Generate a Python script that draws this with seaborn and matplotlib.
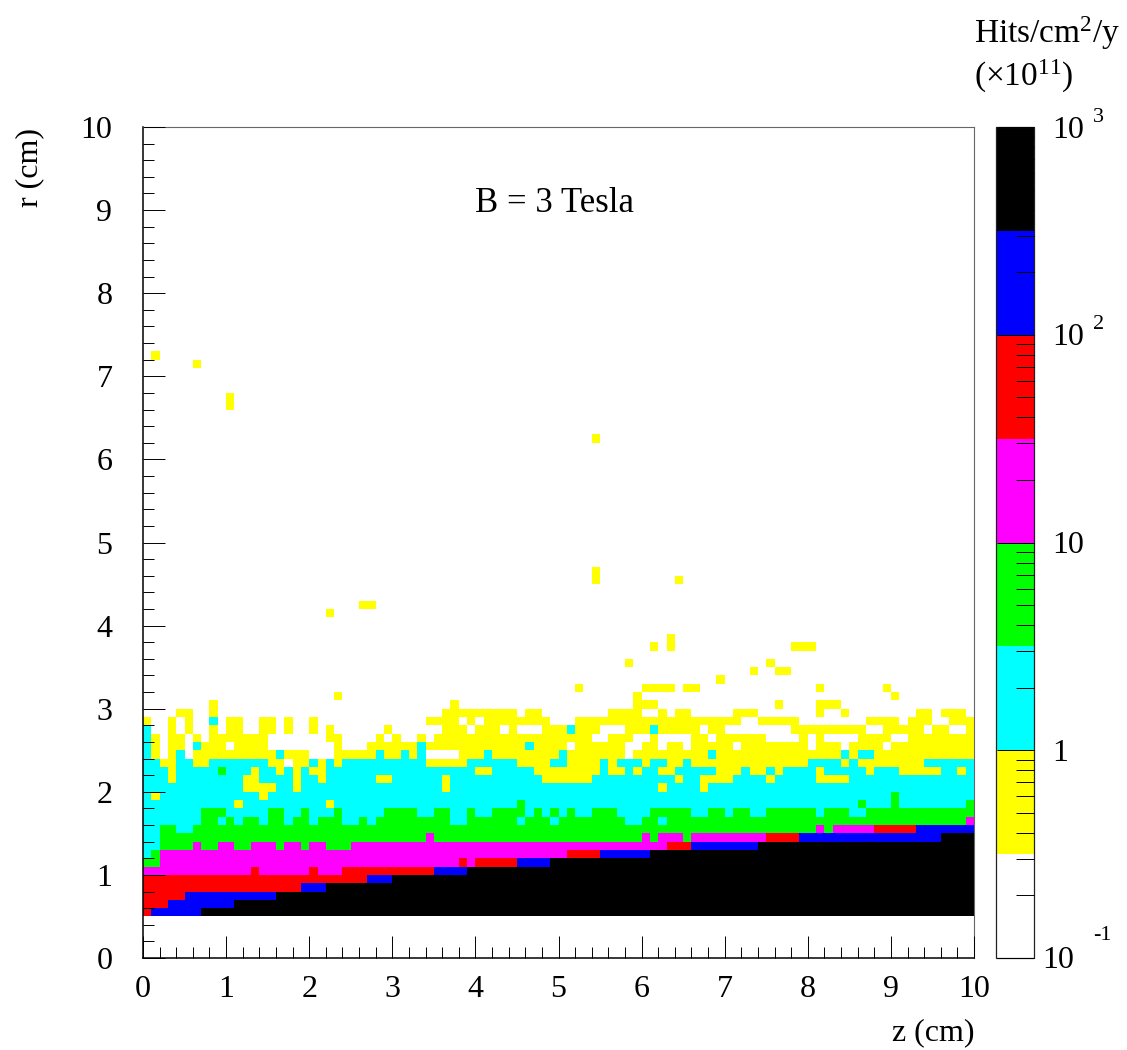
import numpy as np
import matplotlib
matplotlib.use("Agg")
import matplotlib.pyplot as plt
from matplotlib.colors import ListedColormap, LogNorm
from matplotlib.ticker import LogLocator, MultipleLocator, NullFormatter
from matplotlib.transforms import ScaledTranslation
import seaborn as sns

sns.set_style("white", {"axes.axisbelow": False, "text.color": "black",
                        "xtick.color": "black", "ytick.color": "black"})
plt.rcParams["font.family"] = ["Liberation Serif", "DejaVu Serif"]
plt.rcParams["mathtext.fontset"] = "custom"
plt.rcParams["mathtext.rm"] = "Liberation Serif"
plt.rcParams["mathtext.it"] = "Liberation Serif"
plt.rcParams["mathtext.default"] = "rm"

# hit rate per band, white = below 10^-0.5
band_value = {"w": 0.15, "y": 0.56, "c": 1.78, "g": 5.6, "m": 17.8, "r": 56, "b": 178, "k": 562}
band_colors = ["white", "#ffff00", "#00ffff", "#00ff00", "#ff00ff", "#ff0000", "#0000ff", "black"]

# run lengths of each r bin (0.1 cm), z bins left to right, first entry r bin 5
rows_low = [
    "r1 b6 k93",
    "r3 b8 k89",
    "r5 b11 k84",
    "r19 b3 k78",
    "r27 b3 k70",
    "m13 r1 m6 r1 m3 r11 b4 k61",
    "g2 m36 r1 m1 r5 b4 k51",
    "c1 g1 m49 r4 b6 k39",
    "c2 g4 m1 g2 m2 g2 m3 g1 m2 g1 m2 g3 m38 r3 b8 k26",
    "c2 g32 m1 g25 m1 g1 m3 g1 m9 r4 b17 k4",
    "c2 g2 c2 g75 m1 g1 m5 r5 b7",
    "c7 g2 c1 g1 c1 g2 c1 g2 c1 g2 c1 g3 c2 g1 c1 g9 c2 g6 c1 g3 c1 g8 c2 g2 c1 g36 m1",
    "c7 g3 c5 g2 c2 g1 c3 g1 c5 g4 c2 g2 c2 g1 c2 g4 c1 g1 c1 g1 c1 g1 c2 g3 c4 g5 c2 g2 c1 g2 c2 g6 c1 g3 c2 g13",
    "c11 y1 c10 y1 c22 g1 c40 g1 c3 g1 c8 g1",
    "c1 y1 c12 y1 c75 g1 c9",
    "c12 y4 c2 y1 c17 y1 c25 y1 c4 y1 c32",
    "c3 y1 c8 y2 c4 y1 c2 y1 c6 y2 c6 y1 c11 y6 c10 y1 c2 y4 c4 y1 c5 y4 c15",
    "c3 y1 c5 g1 c3 y1 c2 y1 c1 y1 c1 y2 c18 y2 c5 y8 c1 y2 c1 y1 c2 y2 c5 y3 c1 y2 c1 y1 c4 y1 c5 y1 c3 y5 c2 y1 c1",
    "c2 y2 c2 y2 c7 y2 w1 y2 c1 y1 c1 y1 c10 y5 c6 y4 c2 y4 c1 y1 c3 y1 c2 y2 c1 y14 c4 y1 c1 y8 c6",
    "c1 y1 w1 y1 c1 w1 y10 c1 y3 w3 y5 c1 y2 c1 y1 c1 w4 y3 c1 y8 c1 y7 w1 y9 c1 y15 c1 y1 c2 y12",
    "c1 y1 w1 y2 w1 c1 y3 w1 y4 w8 y1 w3 y6 c1 y12 c1 y4 w1 y6 w2 y2 w1 y2 w1 y5 w1 y8 w1 y3 w1 y4 w1 y10",
    "c1 y1 w1 y2 w1 y1 w1 y7 w7 y2 w4 y1 w1 y1 w2 y1 w1 y19 w2 y3 w2 y1 w4 y2 w1 y6 w4 y1 w1 y1 w4 y4 w2 y8",
    "c1 w2 y1 w1 y1 w2 y1 w1 y2 w2 y2 w1 y1 w2 y1 w1 y1 w6 y1 w6 y3 w1 y3 w1 y1 w3 y3 c1 y3 w3 y3 c1 y5 w1 y2 w8 y9 w2 y5 w1 y2 w2 y1",
    "y1 w2 y1 w1 y1 w2 c1 w1 y2 w2 y2 w1 y1 w2 y1 w13 y4 w1 y1 w1 y8 w3 y20 w2 y5 w8 y4 w1 y3 w2 y3",
    "w4 y2 w2 y1 w27 y9 w1 y2 w8 y4 w2 y1 w1 y2 w5 y3 w7 y1 w2 y1 w8 y2 w1 y3 w1",
]

# isolated yellow bins above the band, r bin -> z bins
rows_sparse = {
    30: [8, 37, 59, 60, 61, 76, 81, 82, 83],
    31: [23, 59, 90],
    32: [52, 60, 61, 62, 63, 65, 66, 81, 89],
    33: [69],
    34: [73, 76, 77],
    35: [58, 75],
    37: [61, 63, 78, 79, 80],
    38: [63],
    41: [22],
    42: [26, 27],
    45: [54, 64],
    46: [54],
    62: [54],
    66: [10],
    67: [10],
    71: [6],
    72: [1],
}

axis_ticks = [0, 10, 20, 30, 40, 50, 60, 70, 80, 90, 100]
axis_labels = ["0", "1", "2", "3", "4", "5", "6", "7", "8", "9", "10"]
cbar_ticks = [0.1, 1, 10, 100, 1000]
cbar_labels = ["10", "1", "10", "10", "10"]
cbar_exps = ["-1", "", "", "2", "3"]

hits = np.full((100, 100), band_value["w"])
for i, row in enumerate(rows_low):
    cells = []
    for run in row.split():
        cells += [band_value[run[0]]] * int(run[1:])
    if len(cells) != 100:
        print("bad row", i + 5, len(cells))
    hits[i + 5, :len(cells)] = cells[:100]
for r_bin, zs in rows_sparse.items():
    hits[r_bin, zs] = band_value["y"]

W, H = 1127, 1050
fig = plt.figure(figsize=(W / 100, H / 100), dpi=100, facecolor="white")
ax = fig.add_axes([143 / W, (H - 958) / H, 831 / W, 831 / H])
cax = fig.add_axes([996 / W, (H - 958) / H, 38 / W, 831 / H])

sns.heatmap(hits, ax=ax, cbar_ax=cax, cmap=ListedColormap(band_colors),
            norm=LogNorm(0.1, 1000), xticklabels=False, yticklabels=False,
            cbar_kws={"ticks": cbar_ticks})
ax.set_ylim(0, 100)
ax.set_xlim(0, 100)
ax.set_axisbelow(False)
cax.set_axisbelow(False)

fs = 23
ax.set_xticks(axis_ticks, axis_labels, fontsize=fs)
ax.set_yticks(axis_ticks, axis_labels, fontsize=fs)
ax.xaxis.set_minor_locator(MultipleLocator(2))
ax.yaxis.set_minor_locator(MultipleLocator(2))
ax.tick_params(which="major", direction="in", length=16, width=0.7, color="black",
               bottom=True, left=True, top=False, right=False)
ax.tick_params(axis="x", which="major", pad=12)
ax.tick_params(axis="y", which="major", pad=22)
ax.tick_params(which="minor", direction="in", length=8, width=0.7, color="black",
               bottom=True, left=True, top=False, right=False)
for side, spine in ax.spines.items():
    spine.set_visible(True)
    spine.set_color("black" if side in ("left", "bottom") else "#666666")
    spine.set_linewidth(1.1 if side in ("left", "bottom") else 0.8)

cb = ax.collections[0].colorbar
cb.outline.set_visible(True)
cb.outline.set_edgecolor("#222222")
cb.outline.set_linewidth(0.9)
cax.yaxis.set_minor_locator(LogLocator(base=10, subs=range(2, 10), numticks=20))
cax.yaxis.set_minor_formatter(NullFormatter())
cax.tick_params(which="major", direction="in", length=27, width=0.7, color="black",
                right=True, left=False, labelright=False, labelleft=False)
cax.tick_params(which="minor", direction="in", length=13, width=0.7, color="black",
                right=True, left=False)

trans = cax.get_yaxis_transform()
drop = ScaledTranslation(0, -3 / 100, fig.dpi_scale_trans)
for val, lab, exp in zip(cbar_ticks, cbar_labels, cbar_exps):
    x0 = 1042 if exp == "-1" else 1052
    cax.text((x0 - 996) / 38, val, lab, transform=trans + drop, fontsize=fs,
             ha="left", va="center", clip_on=False)
    if exp:
        lift = 22 if exp == "-1" else 10
        offset = ScaledTranslation(0, lift / 100, fig.dpi_scale_trans)
        cax.text((1093 - 996) / 38, val, exp, transform=trans + offset, fontsize=16,
                 ha="left", va="center", clip_on=False)

fig.text(475 / W, 1 - 203 / H, "B = 3 Tesla", fontsize=25, va="center", ha="left")
fig.text(974 / W, 1 - 1033 / H, "z (cm)", fontsize=23, va="center", ha="right")
fig.text(30 / W, 1 - 128 / H, "r (cm)", fontsize=23, rotation=90, va="top", ha="center")
fig.text(974 / W, 1 - 43 / H, "Hits/cm$^{2}$/y", fontsize=24, va="baseline", ha="left")
fig.text(974 / W, 1 - 86 / H, "(×10$^{11}$)", fontsize=24, va="baseline", ha="left")

fig.savefig("out.png", dpi=100)
